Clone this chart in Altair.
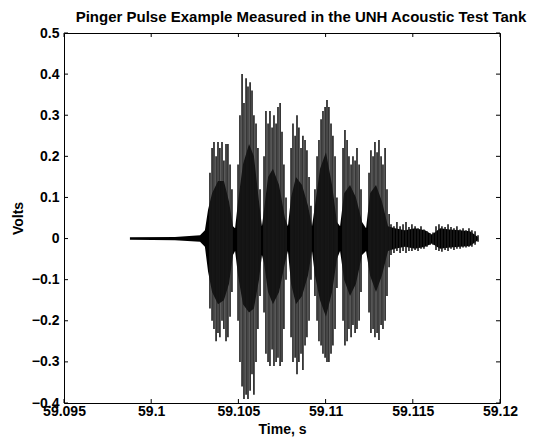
import altair as alt
import pandas as pd

# ---- core envelope of the waveform (dense black body) ----
core_t = [59.09878, 59.10136, 59.10280, 59.10308, 59.10326, 59.10349, 59.10383, 59.10417,
          59.10446, 59.10469, 59.10481, 59.10498, 59.10526, 59.10561, 59.10589, 59.10618,
          59.10635, 59.10647, 59.10670, 59.10698, 59.10733, 59.10767, 59.10784, 59.10802,
          59.10830, 59.10865, 59.10899, 59.10922, 59.10939, 59.10968, 59.11002, 59.11037,
          59.11065, 59.11083, 59.11106, 59.11140, 59.11174, 59.11209, 59.11232, 59.11255,
          59.11289, 59.11323, 59.11358, 59.11398, 59.11455, 59.11513, 59.11570, 59.11610,
          59.11656, 59.11713, 59.11771, 59.11828, 59.11874]
core_hi = [0.003, 0.004, 0.008, 0.02, 0.07, 0.11, 0.14, 0.14,
           0.09, 0.03, 0.025, 0.09, 0.18, 0.23, 0.20, 0.09,
           0.03, 0.07, 0.15, 0.17, 0.13, 0.05, 0.03, 0.10,
           0.15, 0.13, 0.08, 0.03, 0.08, 0.17, 0.21, 0.13,
           0.04, 0.03, 0.11, 0.13, 0.10, 0.04, 0.025, 0.11,
           0.13, 0.09, 0.03, 0.025, 0.02, 0.025, 0.02, 0.01,
           0.025, 0.022, 0.02, 0.018, 0.004]
core_lo = [-0.003, -0.004, -0.008, -0.02, -0.08, -0.13, -0.16, -0.15,
           -0.11, -0.04, -0.03, -0.09, -0.16, -0.18, -0.17, -0.10,
           -0.04, -0.06, -0.13, -0.16, -0.13, -0.06, -0.03, -0.11,
           -0.16, -0.14, -0.09, -0.03, -0.09, -0.15, -0.19, -0.13,
           -0.05, -0.03, -0.10, -0.14, -0.11, -0.04, -0.03, -0.09,
           -0.13, -0.09, -0.03, -0.025, -0.02, -0.025, -0.02, -0.012,
           -0.025, -0.022, -0.02, -0.018, -0.004]

# ---- individual oscillation spikes (min / max per column) ----
spike_t = [
    59.10337, 59.10349, 59.10360, 59.10372, 59.10383, 59.10394, 59.10406, 59.10417, 59.10429, 59.10440, 59.10452, 59.10463,
    59.10498, 59.10509, 59.10521, 59.10532, 59.10544, 59.10555, 59.10567, 59.10578, 59.10589, 59.10601, 59.10612, 59.10624,
    59.10647, 59.10658, 59.10670, 59.10681, 59.10693, 59.10704, 59.10716, 59.10727, 59.10739, 59.10750, 59.10761, 59.10773,
    59.10802, 59.10813, 59.10825, 59.10836, 59.10847, 59.10859, 59.10870, 59.10882, 59.10893, 59.10905, 59.10916,
    59.10939, 59.10951, 59.10962, 59.10974, 59.10985, 59.10997, 59.11008, 59.11019, 59.11031, 59.11042, 59.11054, 59.11065,
    59.11100, 59.11111, 59.11123, 59.11134, 59.11146, 59.11157, 59.11169, 59.11180, 59.11192, 59.11203,
    59.11249, 59.11260, 59.11272, 59.11283, 59.11295, 59.11306, 59.11318, 59.11329, 59.11341, 59.11352, 59.11364,
    59.11375, 59.11392, 59.11409, 59.11427, 59.11444, 59.11461, 59.11478, 59.11495, 59.11513, 59.11530,
    59.11547, 59.11564, 59.11581, 59.11599, 59.11616, 59.11633, 59.11650, 59.11667, 59.11685, 59.11702,
    59.11719, 59.11736, 59.11753, 59.11771, 59.11788, 59.11805, 59.11822, 59.11839, 59.11857, 59.11874]
spike_hi = [
    0.16, 0.22, 0.235, 0.20, 0.235, 0.22, 0.235, 0.19, 0.23, 0.23, 0.18, 0.12,
    0.18, 0.30, 0.40, 0.33, 0.39, 0.37, 0.38, 0.36, 0.30, 0.28, 0.22, 0.12,
    0.20, 0.31, 0.28, 0.31, 0.27, 0.30, 0.28, 0.32, 0.33, 0.26, 0.18, 0.10,
    0.22, 0.28, 0.25, 0.30, 0.27, 0.22, 0.25, 0.24, 0.215, 0.15, 0.08,
    0.12, 0.20, 0.24, 0.29, 0.31, 0.32, 0.337, 0.32, 0.28, 0.25, 0.20, 0.10,
    0.22, 0.264, 0.24, 0.20, 0.18, 0.20, 0.19, 0.22, 0.18, 0.12,
    0.16, 0.215, 0.20, 0.235, 0.21, 0.24, 0.20, 0.18, 0.22, 0.12, 0.06,
    0.035, 0.03, 0.04, 0.03, 0.035, 0.04, 0.028, 0.035, 0.03, 0.025,
    0.03, 0.022, 0.018, 0.012, 0.015, 0.03, 0.035, 0.03, 0.028, 0.035,
    0.028, 0.025, 0.03, 0.022, 0.025, 0.02, 0.025, 0.02, 0.018, 0.008]
spike_lo = [
    -0.17, -0.20, -0.22, -0.25, -0.23, -0.24, -0.20, -0.22, -0.25, -0.24, -0.19, -0.13,
    -0.20, -0.30, -0.36, -0.39, -0.38, -0.39, -0.37, -0.33, -0.38, -0.30, -0.22, -0.14,
    -0.18, -0.28, -0.30, -0.31, -0.27, -0.31, -0.30, -0.29, -0.31, -0.30, -0.22, -0.10,
    -0.24, -0.30, -0.29, -0.33, -0.30, -0.28, -0.32, -0.26, -0.24, -0.20, -0.10,
    -0.14, -0.20, -0.25, -0.26, -0.28, -0.29, -0.30, -0.30, -0.28, -0.26, -0.22, -0.12,
    -0.20, -0.26, -0.25, -0.22, -0.24, -0.21, -0.23, -0.22, -0.20, -0.13,
    -0.18, -0.23, -0.22, -0.24, -0.23, -0.247, -0.21, -0.22, -0.20, -0.14, -0.07,
    -0.04, -0.035, -0.03, -0.035, -0.03, -0.035, -0.03, -0.03, -0.028, -0.03,
    -0.025, -0.025, -0.02, -0.015, -0.015, -0.028, -0.03, -0.032, -0.028, -0.03,
    -0.025, -0.028, -0.025, -0.025, -0.022, -0.022, -0.02, -0.02, -0.015, -0.008]

x_ticks = [59.095, 59.1, 59.105, 59.11, 59.115, 59.12]
y_ticks = [-0.4, -0.3, -0.2, -0.1, 0.0, 0.1, 0.2, 0.3, 0.4, 0.5]

FONT = "Liberation Sans"
W, H = 436, 370

core = pd.DataFrame({"t": core_t, "hi": core_hi, "lo": core_lo})
spikes = pd.DataFrame({"t": spike_t, "hi": spike_hi, "lo": spike_lo})
xt = pd.DataFrame({"t": x_ticks})
yt = pd.DataFrame({"v": y_ticks})

xs = alt.Scale(domain=[59.095, 59.12], nice=False, zero=False)
ys = alt.Scale(domain=[-0.4, 0.5], nice=False, zero=False)

x_axis = alt.Axis(values=x_ticks, labelExpr="format(datum.value, '.3~f')", title="Time, s",
                  ticks=False, domain=False, grid=False, labelPadding=1, titlePadding=4,
                  labelFlush=False, labelOverlap=False,
                  labelFont=FONT, labelFontSize=14, labelFontWeight="bold", labelColor="black",
                  titleFont=FONT, titleFontSize=14, titleFontWeight="bold", titleColor="black")
y_axis = alt.Axis(values=y_ticks, labelExpr="datum.value == 0 ? '0' : format(datum.value, '.1f')",
                  title="Volts", ticks=False, domain=False, grid=False, labelPadding=5,
                  titlePadding=6, labelFlush=False, labelOverlap=False,
                  labelFont=FONT, labelFontSize=14, labelFontWeight="bold", labelColor="black",
                  titleFont=FONT, titleFontSize=14, titleFontWeight="bold", titleColor="black")

X_MAIN = alt.X("t:Q", scale=xs, axis=x_axis)

area = alt.Chart(core).mark_area(color="black", interpolate="linear").encode(
    x=X_MAIN,
    y=alt.Y("hi:Q", scale=ys, axis=y_axis),
    y2="lo:Q",
)

rules = alt.Chart(spikes).mark_rule(color="#1a1a1a", strokeWidth=1.6).encode(
    x=X_MAIN,
    y=alt.Y("hi:Q", scale=ys, axis=y_axis),
    y2="lo:Q",
)

xtick_bot = alt.Chart(xt).mark_rule(color="black").encode(
    x=X_MAIN, y=alt.value(H), y2=alt.value(H - 4))
xtick_top = alt.Chart(xt).mark_rule(color="black").encode(
    x=X_MAIN, y=alt.value(0), y2=alt.value(4))
ytick_l = alt.Chart(yt).mark_rule(color="black").encode(
    y=alt.Y("v:Q", scale=ys, axis=y_axis), x=alt.value(0), x2=alt.value(4))
ytick_r = alt.Chart(yt).mark_rule(color="black").encode(
    y=alt.Y("v:Q", scale=ys, axis=y_axis), x=alt.value(W), x2=alt.value(W - 4))

chart = alt.layer(area, rules, xtick_bot, xtick_top, ytick_l, ytick_r).properties(
    width=W, height=H,
    background="white",
    autosize=alt.AutoSizeParams(type="none"),
    padding={"left": 56, "top": 25, "right": 50, "bottom": 35},
    title=alt.TitleParams(
        "Pinger Pulse Example Measured in the UNH Acoustic Test Tank",
        font=FONT, fontSize=15, fontWeight="bold", color="black",
        anchor="middle", dx=19, offset=1),
).configure_view(stroke="black", strokeWidth=1)

chart.save("out.html", embed_options={"renderer": "svg", "actions": False})
